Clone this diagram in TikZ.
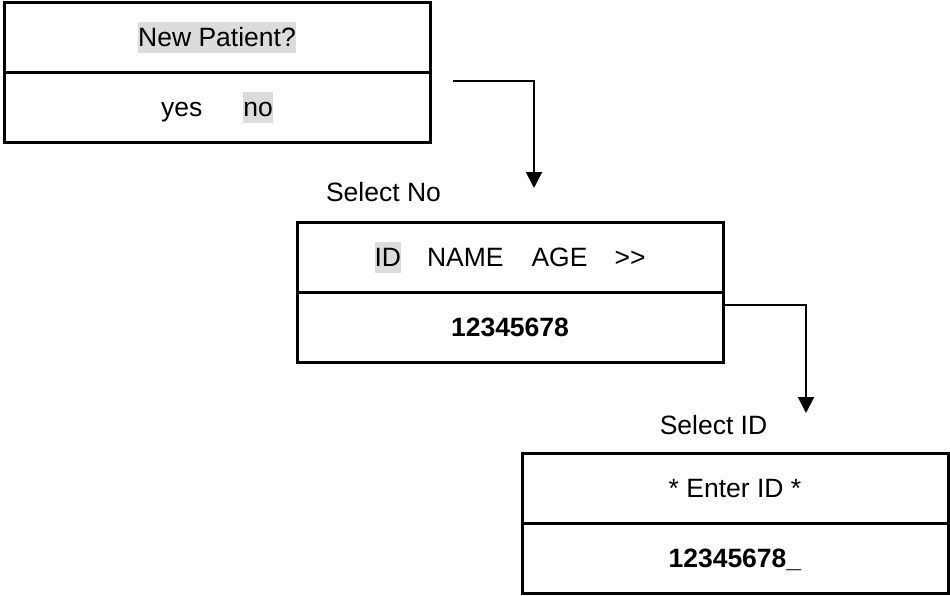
\documentclass[tikz,border=0pt]{standalone}
\usepackage{fontspec}
\setmainfont{Liberation Sans}
\usepackage{xcolor}
\usepackage{tikz}
\usetikzlibrary{positioning,arrows.meta}
\definecolor{hlgray}{RGB}{220,220,220}
\newcommand{\hl}[1]{{\setlength{\fboxsep}{0pt}\colorbox{hlgray}{\rule[-6pt]{0pt}{31pt}#1}}}

\begin{document}
\begin{tikzpicture}[x=1pt,y=-1pt,
  cell/.style={draw, line width=3pt, minimum width=426pt, minimum height=70pt,
    inner sep=0pt, outer sep=0pt, text height=25pt, text depth=6pt, font=\fontsize{26.5}{31}\selectfont},
  lbl/.style={inner sep=0pt, text height=25pt, text depth=6pt, font=\fontsize{26.5}{31}\selectfont},
  conn/.style={line width=2pt, -{Triangle[width=16pt,length=16pt]}}]
  \useasboundingbox (0,0) rectangle (950,595);

  \node[cell, anchor=north west] (ask) at (4,2) {\hl{New Patient?}};
  \node[cell, below=0pt of ask] (yesno) {yes\hspace{41pt}\hl{no}};

  \node[lbl] (selno) at (383.5,192) {Select No};
  \node[cell, anchor=north west] (fields) at (297,222) {\hl{ID}\hspace{26pt}NAME\hspace{28pt}AGE\hspace{27pt}{>}{>}};
  \node[cell, below=0pt of fields] (idval) {\textbf{12345678}};

  \node[lbl] (selid) at (713.5,425) {Select ID};
  \node[cell, anchor=north west] (enter) at (522,453) {* Enter ID *};
  \node[cell, below=0pt of enter] (idin) {\textbf{12345678\_}};

  \coordinate (s1) at (453,81);
  \coordinate (e1) at (534,188);
  \draw[conn] (s1) -| (e1);

  \coordinate (s2) at (idval.north east |- 0,305);
  \coordinate (e2) at (806,413);
  \draw[conn] (s2) -| (e2);
\end{tikzpicture}
\end{document}
